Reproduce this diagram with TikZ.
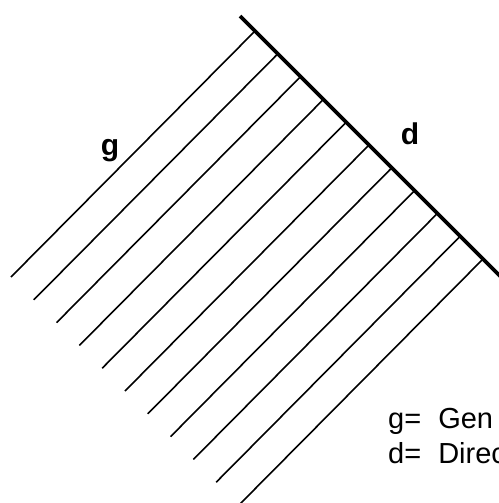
\documentclass[tikz,border=0pt]{standalone}
\usepackage{fontspec}
\setmainfont{Liberation Sans}

\begin{document}
\begin{tikzpicture}[x=1pt, y=-1pt, every node/.style={inner sep=0pt},
	genline/.style={line width=1.6pt},
	dirline/.style={line width=3.6pt},
	letter/.style={font=\fontsize{30}{30}\selectfont\bfseries, anchor=base},
	legend/.style={font=\fontsize{29}{30}\selectfont, anchor=base west}]
	\useasboundingbox (0,0) rectangle (498,503);
	% directrix and generatrices
	\draw[dirline] (240,16) -- (506,282);
	\foreach \i in {0,...,10}
		\draw[genline] (255+22.8*\i,31+22.8*\i) -- ++(-244,246);
	\node[letter] (g) at (110,155) {g};
	\node[letter] (d) at (410,144) {d};
	% legend
	\node[legend] (gleg) at (388,428) {g=\hspace{17pt}Gen};
	\node[legend] (dleg) at (388,463) {d=\hspace{17pt}Direc};
\end{tikzpicture}
\end{document}
